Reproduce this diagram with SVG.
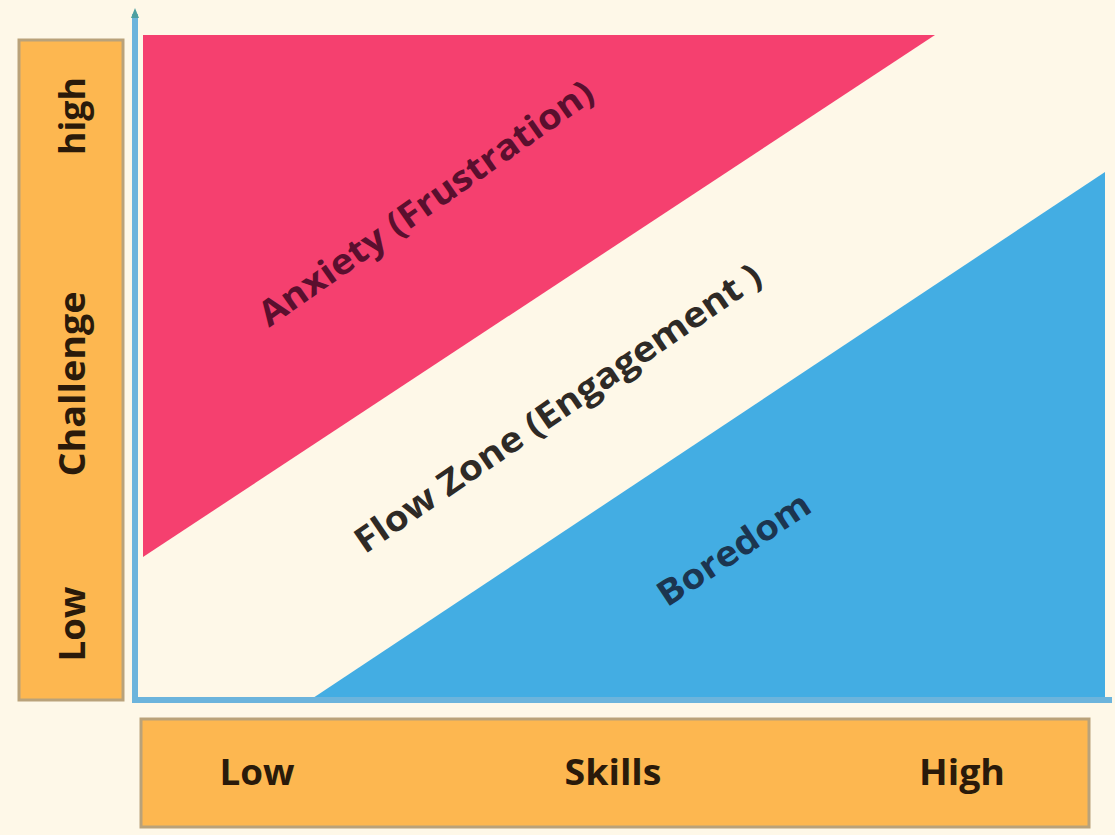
<svg xmlns="http://www.w3.org/2000/svg" width="1115" height="835" viewBox="0 0 1115 835">
<style>
.box{fill:#FDB750;stroke:#B9A27A;stroke-width:3}
.lbl{font-family:"Open Sans","Liberation Sans",sans-serif;font-weight:bold;font-size:35px;fill:#2A1A0A;text-anchor:middle;dominant-baseline:central}
.zone{font-family:"Open Sans","Liberation Sans",sans-serif;font-weight:bold;font-size:35px;text-anchor:middle;dominant-baseline:central}
.axis{stroke:#6CB4DC;stroke-width:6;fill:none}
</style>
<rect width="1115" height="835" fill="#FEF8E8"/>
<g id="challenge-axis-box">
<rect class="box" x="19" y="40" width="104" height="660"/>
<text class="lbl" transform="translate(71,116) rotate(-90)" textLength="78" lengthAdjust="spacingAndGlyphs">high</text>
<text class="lbl" transform="translate(71,384) rotate(-90)" textLength="185" lengthAdjust="spacingAndGlyphs">Challenge</text>
<text class="lbl" transform="translate(71,624) rotate(-90)" textLength="75" lengthAdjust="spacingAndGlyphs">Low</text>
</g>
<g id="skills-axis-box">
<rect class="box" x="141" y="719" width="948" height="108"/>
<text class="lbl" x="257" y="771" textLength="75" lengthAdjust="spacingAndGlyphs">Low</text>
<text class="lbl" x="613" y="771" textLength="97" lengthAdjust="spacingAndGlyphs">Skills</text>
<text class="lbl" x="962" y="771" textLength="86" lengthAdjust="spacingAndGlyphs">High</text>
</g>
<g id="anxiety">
<polygon points="143,35 935,35 143,557" fill="#F5406F"/>
<text class="zone" fill="#5A0F2E" transform="translate(425,202) rotate(-35)" textLength="400" lengthAdjust="spacingAndGlyphs">Anxiety (Frustration)</text>
</g>
<g id="flow-zone">
<text class="zone" fill="#2E2A26" transform="translate(557,407) rotate(-34.3)" textLength="484" lengthAdjust="spacingAndGlyphs">Flow Zone (Engagement )</text>
</g>
<g id="boredom">
<polygon points="310,700 1105,172 1105,700" fill="#43ADE3"/>
<text class="zone" fill="#1C3550" transform="translate(733,548) rotate(-33.5)" textLength="176" lengthAdjust="spacingAndGlyphs">Boredom</text>
</g>
<g id="axes">
<line class="axis" x1="135" y1="14" x2="135" y2="703"/>
<line class="axis" x1="132" y1="700" x2="1112" y2="700"/>
<polygon points="135,8 131,18 139,18" fill="#4E9FA0"/>
</g>
</svg>
